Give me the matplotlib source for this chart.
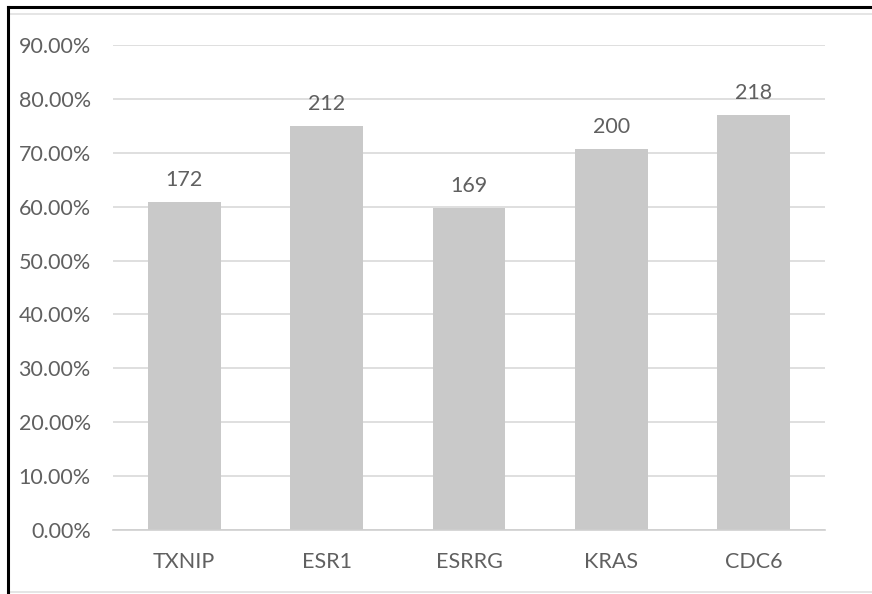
import numpy as np
from matplotlib import pyplot as plt
from matplotlib.lines import Line2D

# data
genes = ['TXNIP', 'ESR1', 'ESRRG', 'KRAS', 'CDC6']
counts = [172, 212, 169, 200, 218]
percent = [60.8, 74.9, 59.7, 70.7, 77.0]
yticks = [0, 10, 20, 30, 40, 50, 60, 70, 80, 90]

plt.rcParams['font.family'] = ['Lato', 'DejaVu Sans']
text_col = '#606060'
grid_col = '#d9d9d9'

fig = plt.figure(figsize=(8.72, 5.94), dpi=100)
ax = fig.add_axes([113/872, 64/594, 712/872, 485/594])

x = np.arange(len(genes))
ax.bar(x, percent, width=0.51, color='#c9c9c9', zorder=2)
for xi, p, c in zip(x, percent, counts):
	ax.annotate(str(c), (xi, p), xytext=(0, 9), textcoords='offset points',
		ha='center', va='bottom', fontsize=15.5, color=text_col)

ax.set_xlim(-0.5, len(genes)-0.5)
ax.set_ylim(0, 90)
ax.set_yticks(yticks)
ax.set_yticklabels(['%.2f%%' % t for t in yticks])
ax.set_xticks(x)
ax.set_xticklabels(genes)
ax.yaxis.grid(True, color=grid_col, lw=1.2, zorder=0)
ax.tick_params(axis='both', length=0, labelsize=15.5, labelcolor=text_col)
ax.tick_params(axis='y', pad=16)
ax.tick_params(axis='x', pad=16)
for s in ['top', 'right', 'left']:
	ax.spines[s].set_visible(False)
ax.spines['bottom'].set_color('#cfcfcf')
ax.spines['bottom'].set_linewidth(1.2)

# spreadsheet cell lines and the black frame around the chart
fig.add_artist(Line2D([10/872, 1], [1-14/594, 1-14/594], color='#e0e0e0', lw=1.2))
fig.add_artist(Line2D([10/872, 1], [1-592/594, 1-592/594], color='#e0e0e0', lw=1.2))
fig.add_artist(Line2D([8/872, 8/872], [0, 1-7/594], color='black', lw=2.2))
fig.add_artist(Line2D([8/872, 1], [1-7/594, 1-7/594], color='black', lw=2.2))

fig.savefig('out.png', dpi=100)
